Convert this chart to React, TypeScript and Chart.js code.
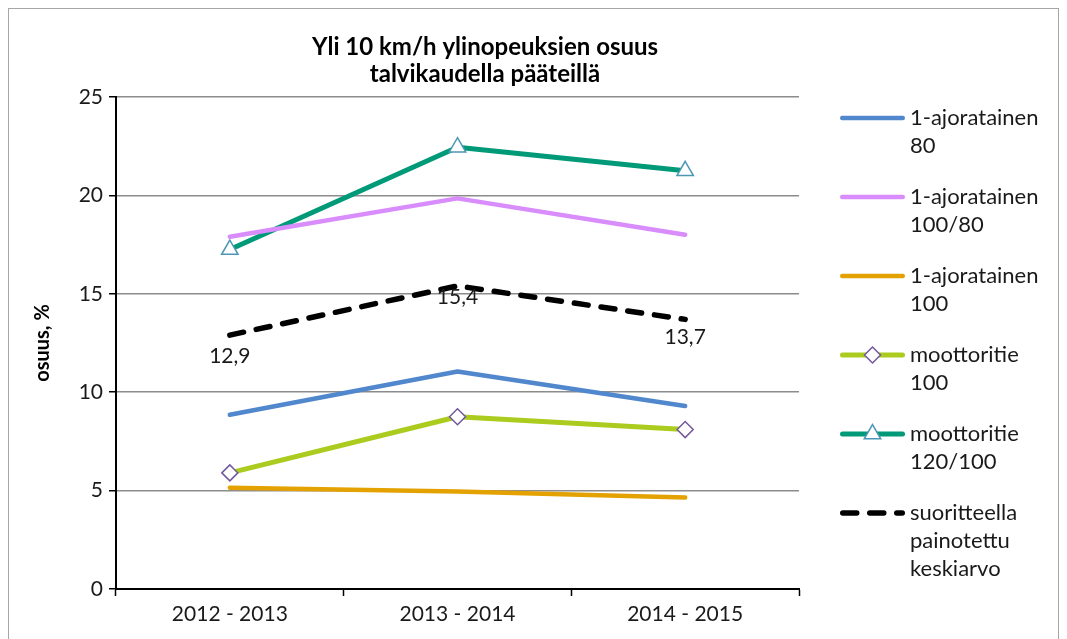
import React, { useEffect, useRef } from "react";
import { Chart, registerables } from "chart.js";

Chart.register(...registerables);

const categories = ["2012 - 2013", "2013 - 2014", "2014 - 2015"];
const titleLines = ["Yli 10 km/h ylinopeuksien osuus", "talvikaudella pääteillä"];
const yTitle = "osuus, %";
const yTicks = [0, 5, 10, 15, 20, 25];

const seriesNames = [
  "1-ajoratainen 80",
  "1-ajoratainen 100/80",
  "1-ajoratainen 100",
  "moottoritie 100",
  "moottoritie 120/100",
  "suoritteella painotettu keskiarvo",
];
const legendLines = [
  ["1-ajoratainen", "80"],
  ["1-ajoratainen", "100/80"],
  ["1-ajoratainen", "100"],
  ["moottoritie", "100"],
  ["moottoritie", "120/100"],
  ["suoritteella", "painotettu", "keskiarvo"],
];

const ajo80 = [8.85, 11.05, 9.3];
const ajo100_80 = [17.9, 19.85, 18.0];
const ajo100 = [5.15, 4.95, 4.65];
const mt100 = [5.9, 8.75, 8.1];
const mt120_100 = [17.25, 22.45, 21.25];
const keskiarvo = [12.9, 15.4, 13.7];

const FONT = "Lato";
const TEXT = "#1a1a1a";
const avgLabelOffsets = [21, 11, 18];

function drawMarker(ctx: CanvasRenderingContext2D, style: string, x: number, y: number, r: number, stroke: string, lw: number) {
  ctx.save();
  ctx.beginPath();
  if (style === "rectRot") {
    ctx.moveTo(x, y - r);
    ctx.lineTo(x + r, y);
    ctx.lineTo(x, y + r);
    ctx.lineTo(x - r, y);
    ctx.closePath();
  } else if (style === "triangle") {
    let rad = 0;
    ctx.moveTo(x + Math.sin(rad) * r, y - Math.cos(rad) * r);
    rad += (2 * Math.PI) / 3;
    ctx.lineTo(x + Math.sin(rad) * r, y - Math.cos(rad) * r);
    rad += (2 * Math.PI) / 3;
    ctx.lineTo(x + Math.sin(rad) * r, y - Math.cos(rad) * r);
    ctx.closePath();
  }
  ctx.fillStyle = "#ffffff";
  ctx.fill();
  ctx.lineWidth = lw;
  ctx.strokeStyle = stroke;
  ctx.stroke();
  ctx.restore();
}

const extrasPlugin = {
  id: "extras",
  afterDraw(chart: any) {
    const ctx: CanvasRenderingContext2D = chart.ctx;
    ctx.save();
    // title
    ctx.fillStyle = "#000";
    ctx.font = `bold 24px ${FONT}`;
    ctx.textAlign = "center";
    ctx.textBaseline = "middle";
    titleLines.forEach((t, i) => ctx.fillText(t, 476, 38 + i * 27));

    // data labels for average series
    const avgIdx = chart.data.datasets.length - 1;
    const meta = chart.getDatasetMeta(avgIdx);
    ctx.font = `21px ${FONT}`;
    ctx.fillStyle = TEXT;
    meta.data.forEach((pt: any, i: number) => {
      const v = chart.data.datasets[avgIdx].data[i] as number;
      ctx.fillText(v.toFixed(1).replace(".", ","), pt.x, pt.y + avgLabelOffsets[i]);
    });

    // legend
    const x0 = 831, x1 = 896, tx = 901;
    chart.data.datasets.forEach((ds: any, i: number) => {
      const y = 109 + i * 79;
      ctx.save();
      ctx.beginPath();
      ctx.strokeStyle = ds.borderColor;
      ctx.lineWidth = ds.borderWidth;
      ctx.lineCap = "round";
      ctx.setLineDash(ds.borderDash || []);
      ctx.moveTo(x0 + ds.borderWidth / 2, y);
      ctx.lineTo(x1 - ds.borderWidth / 2, y);
      ctx.stroke();
      ctx.restore();
      if (ds.pointRadius > 0) {
        drawMarker(ctx, ds.pointStyle, (x0 + x1) / 2, y, ds.pointRadius, ds.pointBorderColor, ds.pointBorderWidth);
      }
      ctx.font = `22px ${FONT}`;
      ctx.fillStyle = TEXT;
      ctx.textAlign = "left";
      ctx.textBaseline = "middle";
      legendLines[i].forEach((line, j) => ctx.fillText(line, tx, y + j * 28));
    });
    ctx.restore();
  },
};

export default function App() {
  const ref = useRef<HTMLCanvasElement | null>(null);
  useEffect(() => {
    if (!ref.current) return;
    const base = {
      fill: false,
      tension: 0,
      borderJoinStyle: "round" as const,
      borderCapStyle: "round" as const,
      pointRadius: 0,
      pointHoverRadius: 0,
    };
    const chart = new Chart(ref.current, {
      type: "line",
      data: {
        labels: categories,
        datasets: [
          { ...base, label: seriesNames[0], data: ajo80, borderColor: "#5187cc", borderWidth: 4.5 },
          { ...base, label: seriesNames[1], data: ajo100_80, borderColor: "#d98cfc", borderWidth: 4.5 },
          { ...base, label: seriesNames[2], data: ajo100, borderColor: "#e3a200", borderWidth: 4.5 },
          {
            ...base, label: seriesNames[3], data: mt100, borderColor: "#abcb1e", borderWidth: 5,
            pointStyle: "rectRot", pointRadius: 8, pointBackgroundColor: "#ffffff",
            pointBorderColor: "#73589c", pointBorderWidth: 1.5,
          },
          {
            ...base, label: seriesNames[4], data: mt120_100, borderColor: "#009a78", borderWidth: 5,
            pointStyle: "triangle", pointRadius: 9.5, pointBackgroundColor: "#ffffff",
            pointBorderColor: "#4b97b5", pointBorderWidth: 1.5,
          },
          {
            ...base, label: seriesNames[5], data: keskiarvo, borderColor: "#000000", borderWidth: 5.5,
            borderDash: [14, 13], borderCapStyle: "round" as const,
          },
        ],
      },
      options: {
        animation: false,
        responsive: false,
        devicePixelRatio: 1,
        layout: { padding: { left: 0, top: 88, right: 259, bottom: 0 } },
        plugins: {
          legend: { display: false },
          title: { display: false },
          tooltip: { enabled: false },
        },
        scales: {
          x: {
            type: "category",
            offset: true,
            grid: { offset: true, drawOnChartArea: false, drawTicks: true, tickLength: 7, tickColor: "#000", tickWidth: 1.5 },
            border: { color: "#000", width: 2 },
            ticks: { font: { family: FONT, size: 21 }, color: TEXT, padding: 6, maxRotation: 0, autoSkip: false },
            afterFit: (s: any) => { s.height = 50; },
          },
          y: {
            min: 0,
            max: 25,
            afterBuildTicks: (s: any) => { s.ticks = yTicks.map((v) => ({ value: v })); },
            ticks: { font: { family: FONT, size: 21 }, color: TEXT, padding: 6 },
            grid: { color: "#8c8c8c", lineWidth: 1.5, tickColor: "#000", tickLength: 7, tickWidth: 1.5 },
            border: { color: "#000", width: 2 },
            title: { display: true, text: yTitle, color: "#000", font: { family: FONT, size: 20, weight: "bold" }, padding: { top: 22, bottom: 0 } },
            afterFit: (s: any) => { s.width = 107; },
          },
        },
      },
      plugins: [extrasPlugin],
    });
    return () => chart.destroy();
  }, []);
  return (
    <div style={{ width: 1051, height: 640, border: "1px solid #a6a6a6", boxSizing: "border-box", background: "#fff" }}>
      <canvas ref={ref} width={1049} height={630} style={{ display: "block", width: 1049, height: 630 }} />
    </div>
  );
}
